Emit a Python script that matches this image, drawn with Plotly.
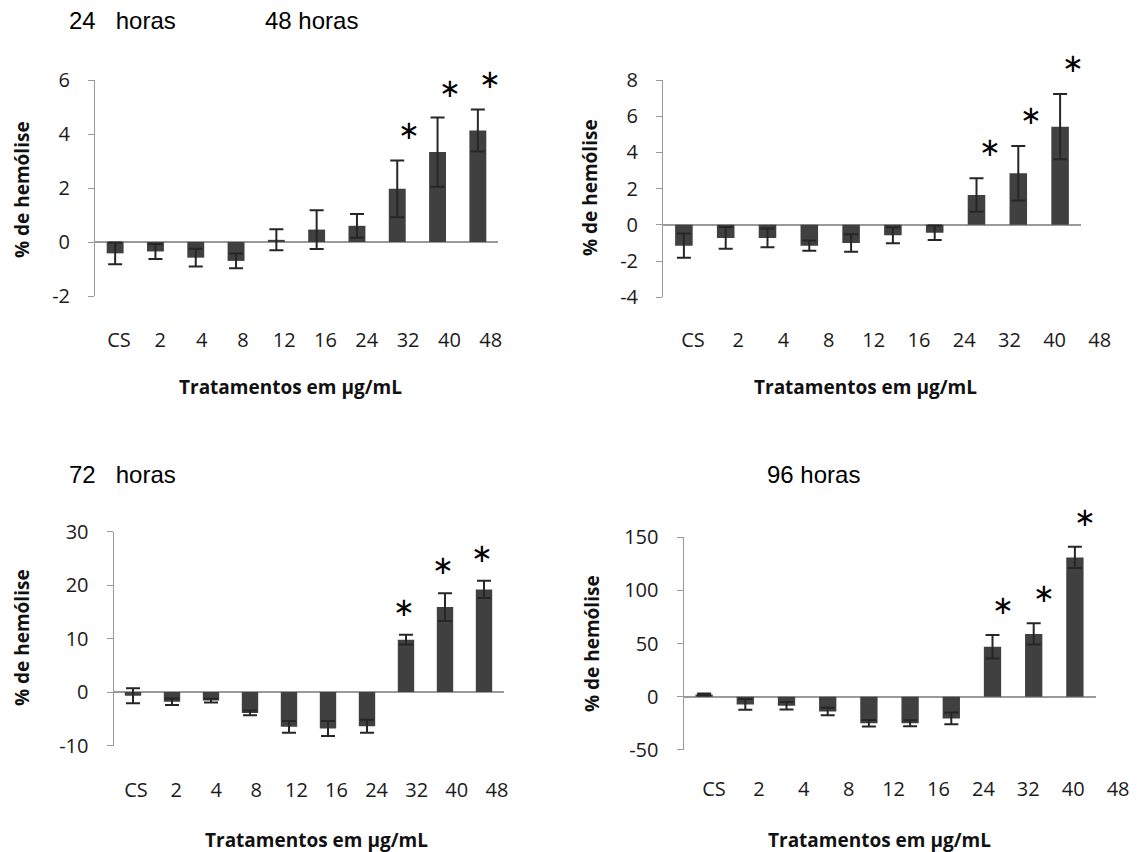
import plotly.graph_objects as go

# Concentrations tested (µg/mL) plus solvent control
categories = ["CS", "2", "4", "8", "12", "16", "24", "32", "40", "48"]

# Mean % hemolysis and error for each exposure time
hem_24h = [-0.42, -0.35, -0.58, -0.70, 0.08, 0.46, 0.60, 1.97, 3.33, 4.13]
err_24h = [0.40, 0.28, 0.33, 0.27, 0.39, 0.72, 0.44, 1.05, 1.28, 0.78]

hem_48h = [-1.15, -0.72, -0.72, -1.15, -1.00, -0.57, -0.44, 1.65, 2.85, 5.42]
err_48h = [0.67, 0.60, 0.52, 0.28, 0.48, 0.44, 0.40, 0.92, 1.50, 1.80]

hem_72h = [-0.7, -1.8, -1.6, -3.9, -6.5, -6.8, -6.4, 9.8, 15.9, 19.2]
err_72h = [1.4, 0.6, 0.35, 0.45, 1.1, 1.4, 1.2, 0.9, 2.6, 1.6]

hem_96h = [2.0, -7.3, -8.5, -14.0, -25.0, -25.0, -20.5, 47.0, 59.0, 131.0]
err_96h = [1.0, 5.0, 3.5, 3.5, 3.0, 2.8, 5.5, 11.0, 10.0, 10.0]

# Statistically significant treatments (marked with *)
significant = [False, False, False, False, False, False, False, True, True, True]

W, H = 1138, 852


def fx(x):
    return x / W


def fy(y):
    return 1 - y / H


# Pixel layout of each panel: plotting box, category-label row (first centre, step),
# label offset below the box, star offsets
panels = [
    dict(vals=hem_24h, errs=err_24h, box=(95, 80, 498, 296), rng=(-2, 6), dtick=2,
         lab=(119, 41.3), standoff=30, star_dx=12, star_dy=30,
         ytitle=(22, 190), xtitle=(290, 387)),
    dict(vals=hem_48h, errs=err_48h, box=(663, 80, 1081, 297.3), rng=(-4, 8), dtick=2,
         lab=(693, 45.2), standoff=29, star_dx=13, star_dy=31,
         ytitle=(590, 188), xtitle=(866, 387)),
    dict(vals=hem_72h, errs=err_72h, box=(113.5, 531.7, 503.5, 745.5), rng=(-10, 30), dtick=10,
         lab=(136, 40.1), standoff=30, star_dx=-2, star_dy=28,
         ytitle=(22, 638), xtitle=(316, 840)),
    dict(vals=hem_96h, errs=err_96h, box=(683.5, 537.3, 1095.5, 749.8), rng=(-50, 150), dtick=50,
         lab=(714, 44.9), standoff=25, star_dx=10, star_dy=30,
         ytitle=(592, 644), xtitle=(879, 840)),
]

titles = [
    ("24\u00a0\u00a0\u00a0horas", 67, 20),
    ("48 horas", 263, 20),
    ("72\u00a0\u00a0\u00a0horas", 67, 474),
    ("96 horas", 765, 474),
]

AXIS_GRAY = "#9a9a9a"
BAR_COLOR = "#404040"
ERR_COLOR = "#262626"
TICK_FONT = dict(family="Open Sans", size=20, color="#1a1a1a")
TITLE_FONT = dict(family="Open Sans", size=19, color="#111111")

fig = go.Figure()
annotations = []
layout = {}
idx = list(range(len(categories)))
ncat = len(categories)

for i, p in enumerate(panels):
    n = "" if i == 0 else str(i + 1)
    nl = str(i + 5)  # companion axes carrying the category labels
    x0, y0, x1, y1 = p["box"]
    lo, hi = p["rng"]

    fig.add_trace(go.Bar(
        x=categories, y=p["vals"], width=0.42,
        marker=dict(color=BAR_COLOR, line=dict(width=0)),
        error_y=dict(type="data", array=p["errs"], visible=True,
                     color=ERR_COLOR, thickness=2, width=7),
        xaxis="x" + n, yaxis="y" + n, showlegend=False, hoverinfo="skip",
    ))
    fig.add_trace(go.Scatter(
        x=idx, y=p["vals"], mode="markers", marker=dict(opacity=0),
        xaxis="x" + nl, yaxis="y" + nl, showlegend=False, hoverinfo="skip",
    ))

    layout["xaxis" + n] = dict(
        domain=[fx(x0), fx(x1)], anchor="y" + n, type="category",
        range=[-0.5, ncat - 0.5], automargin=False,
        showticklabels=False, showline=False, ticks="", showgrid=False,
        zeroline=False, fixedrange=True,
    )
    tv = list(range(lo, hi + 1, p["dtick"]))
    layout["yaxis" + n] = dict(
        domain=[fy(y1), fy(y0)], anchor="x" + n, range=[lo, hi], automargin=False,
        tickvals=tv, ticktext=[str(v) for v in tv],
        showline=True, linecolor=AXIS_GRAY, linewidth=1,
        ticks="outside", ticklen=6, tickcolor=AXIS_GRAY, tickwidth=1,
        showgrid=False, zeroline=True, zerolinecolor=AXIS_GRAY, zerolinewidth=1.5,
        tickfont=TICK_FONT, ticklabelstandoff=14, fixedrange=True,
    )

    # label row: its own linear axis, spaced independently of the bars
    first, step = p["lab"]
    lx0 = first - 0.5 * step
    lx1 = min(first + (ncat - 0.5) * step, W)
    r0 = (lx0 - first) / step
    r1 = r0 + (lx1 - lx0) / step
    layout["xaxis" + nl] = dict(
        domain=[fx(lx0), fx(lx1)], anchor="y" + nl, type="linear",
        range=[r0, r1], automargin=False,
        tickmode="array", tickvals=idx, ticktext=categories, tickangle=0,
        showline=False, ticks="", showgrid=False, zeroline=False,
        tickfont=TICK_FONT, ticklabelstandoff=p["standoff"], fixedrange=True,
    )
    layout["yaxis" + nl] = dict(
        domain=[fy(y1), fy(y0)], anchor="x" + nl, range=[lo, hi], automargin=False,
        visible=False, showline=False, showgrid=False, zeroline=False,
        showticklabels=False, ticks="", fixedrange=True,
    )

    # significance marks above the error bars
    for k, (v, e, s) in enumerate(zip(p["vals"], p["errs"], significant)):
        if s:
            annotations.append(dict(
                x=k, y=v + e, xref="x" + n, yref="y" + n, text="∗",
                showarrow=False, xshift=p["star_dx"], yshift=p["star_dy"],
                font=dict(family="DejaVu Sans", size=26, color="#000000"),
            ))
    tx, ty = p["ytitle"]
    annotations.append(dict(
        x=fx(tx), y=fy(ty), xref="paper", yref="paper", text="<b>% de hemólise</b>",
        textangle=-90, showarrow=False, font=TITLE_FONT,
        xanchor="center", yanchor="middle",
    ))
    tx, ty = p["xtitle"]
    annotations.append(dict(
        x=fx(tx), y=fy(ty), xref="paper", yref="paper",
        text="<b>Tratamentos em µg/mL</b>", showarrow=False, font=TITLE_FONT,
        xanchor="center", yanchor="middle",
    ))

for text, tx, ty in titles:
    annotations.append(dict(
        x=fx(tx), y=fy(ty), xref="paper", yref="paper", text=text,
        showarrow=False, xanchor="left", yanchor="middle",
        font=dict(family="Liberation Sans", size=24, color="#000000"),
    ))

fig.update_layout(
    template="none",
    width=W, height=H, margin=dict(l=0, r=0, t=0, b=0, autoexpand=False),
    paper_bgcolor="white", plot_bgcolor="rgba(0,0,0,0)",
    annotations=annotations, **layout,
)

fig.write_html("out.html")
